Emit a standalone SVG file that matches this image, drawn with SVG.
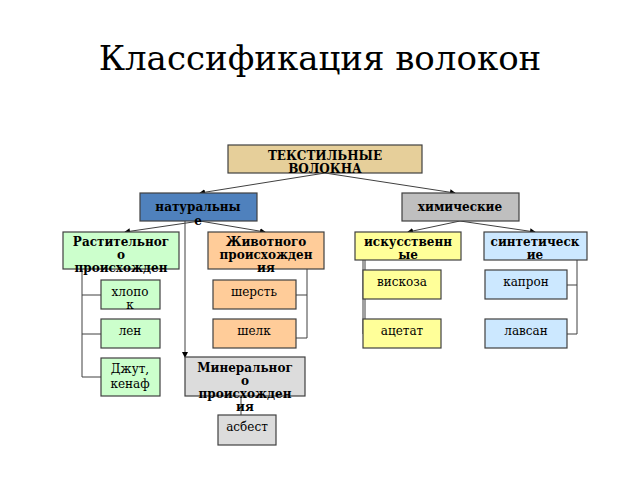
<svg xmlns="http://www.w3.org/2000/svg" width="640" height="480" viewBox="0 0 640 480">
<style>
.b{stroke:#404040;stroke-width:1.2}
.t{font-family:"DejaVu Serif",serif;font-size:12px;text-anchor:middle;fill:#000}
.h{font-weight:bold;font-size:12px}
.c{fill:none;stroke:#404040;stroke-width:1}
</style>
<defs>
<marker id="a" markerWidth="6" markerHeight="6" refX="5" refY="3" orient="auto"><path d="M0,0L6,3L0,6z" fill="#000"/></marker>
</defs>
<rect width="640" height="480" fill="#fff"/>
<text x="320" y="70" font-family="DejaVu Serif,serif" font-size="34" text-anchor="middle">Классификация волокон</text>
<g id="connectors">
<path class="c" d="M325,173L200,193" marker-end="url(#a)"/>
<path class="c" d="M325,173L455,193" marker-end="url(#a)"/>
<path class="c" d="M200,221L125,232" marker-end="url(#a)"/>
<path class="c" d="M200,221L265,232" marker-end="url(#a)"/>
<path class="c" d="M460,221L408,232" marker-end="url(#a)"/>
<path class="c" d="M460,221L535,232" marker-end="url(#a)"/>
<path class="c" d="M185,221L185,357" marker-end="url(#a)"/>
<path class="c" d="M82,269V377H101M82,295H101M82,334H101"/>
<path class="c" d="M307,269V338H296M307,295H296"/>
<path class="c" d="M363,260V334H363M355,260M363,290H363"/>
<path class="c" d="M365,260V334H363M365,290H363"/>
<path class="c" d="M577,260V334H567M577,285H567"/>
<path class="c" d="M241,396V415"/>
</g>
<g id="n-top"><rect class="b" x="228" y="145" width="194" height="28" fill="#e6cf9a"/><text class="t h" x="325" y="160">ТЕКСТИЛЬНЫЕ</text><text class="t h" x="325" y="173">ВОЛОКНА</text></g>
<g id="n-nat"><rect class="b" x="140" y="193" width="117" height="28" fill="#4f81bd"/><text class="t h" x="198" y="211" font-size="13">натуральны</text><text class="t h" x="198" y="225" font-size="13">е</text></g>
<g id="n-chem"><rect class="b" x="402" y="193" width="117" height="28" fill="#bfbfbf"/><text class="t h" x="460" y="211" font-size="13">химические</text></g>
<g id="n-rast"><rect class="b" x="63" y="232" width="116" height="37" fill="#ccffcc"/><text class="t h" x="121" y="246">Растительног</text><text class="t h" x="121" y="259">о</text><text class="t h" x="121" y="272">происхожден</text></g>
<g id="n-zhiv"><rect class="b" x="208" y="232" width="116" height="37" fill="#ffcc99"/><text class="t h" x="266" y="246">Животного</text><text class="t h" x="266" y="259">происхожден</text><text class="t h" x="266" y="272">ия</text></g>
<g id="n-isk"><rect class="b" x="355" y="232" width="106" height="28" fill="#ffff99"/><text class="t h" x="408" y="246">искусственн</text><text class="t h" x="408" y="259">ые</text></g>
<g id="n-sint"><rect class="b" x="484" y="232" width="103" height="28" fill="#cce8ff"/><text class="t h" x="535" y="246">синтетическ</text><text class="t h" x="535" y="259">ие</text></g>
<g id="n-hlop"><rect class="b" x="101" y="280" width="59" height="29" fill="#ccffcc"/><text class="t" x="130" y="296">хлопо</text><text class="t" x="130" y="309">к</text></g>
<g id="n-len"><rect class="b" x="101" y="319" width="59" height="29" fill="#ccffcc"/><text class="t" x="130" y="335">лен</text></g>
<g id="n-dzhut"><rect class="b" x="101" y="358" width="59" height="38" fill="#ccffcc"/><text class="t" x="130" y="373">Джут,</text><text class="t" x="130" y="388">кенаф</text></g>
<g id="n-sherst"><rect class="b" x="213" y="280" width="83" height="29" fill="#ffcc99"/><text class="t" x="254" y="296">шерсть</text></g>
<g id="n-shelk"><rect class="b" x="213" y="319" width="83" height="29" fill="#ffcc99"/><text class="t" x="254" y="335">шелк</text></g>
<g id="n-visk"><rect class="b" x="363" y="270" width="78" height="29" fill="#ffff99"/><text class="t" x="402" y="286">вискоза</text></g>
<g id="n-acet"><rect class="b" x="363" y="319" width="78" height="29" fill="#ffff99"/><text class="t" x="402" y="335">ацетат</text></g>
<g id="n-kapr"><rect class="b" x="485" y="270" width="82" height="29" fill="#cce8ff"/><text class="t" x="526" y="286">капрон</text></g>
<g id="n-lavs"><rect class="b" x="485" y="319" width="82" height="29" fill="#cce8ff"/><text class="t" x="526" y="335">лавсан</text></g>
<g id="n-min"><rect class="b" x="185" y="357" width="120" height="39" fill="#dcdcdc"/><text class="t h" x="245" y="372">Минеральног</text><text class="t h" x="245" y="385">о</text><text class="t h" x="245" y="398">происхожден</text><text class="t h" x="245" y="411">ия</text></g>
<g id="n-asb"><rect class="b" x="218" y="415" width="58" height="30" fill="#dcdcdc"/><text class="t" x="247" y="431">асбест</text></g>
</svg>
